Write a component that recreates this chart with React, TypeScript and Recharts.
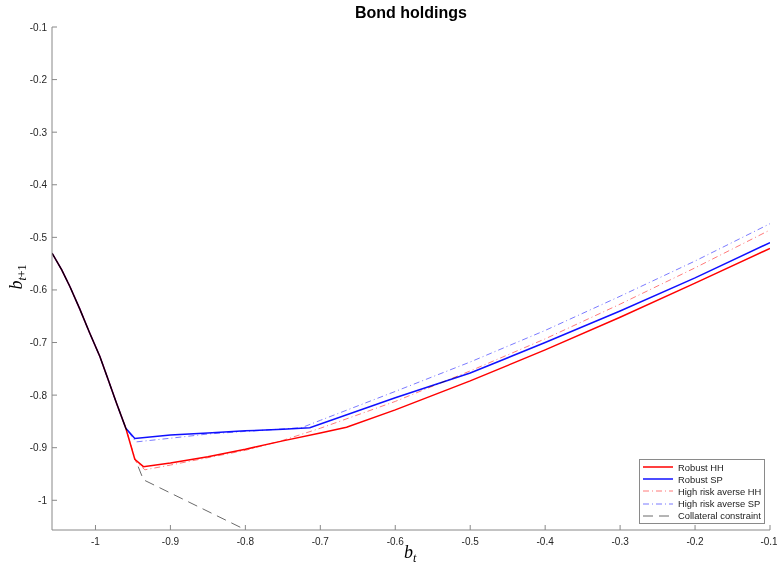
import React from 'react';
import { LineChart, Line, XAxis, YAxis, Legend } from 'recharts';

// common left branch (all policies coincide here)
const sharedX = [-1.058, -1.045, -1.034, -1.021, -1.008, -0.994, -0.983, -0.972, -0.9595];
const sharedY = [-0.53, -0.562, -0.594, -0.636, -0.681, -0.727, -0.771, -0.815, -0.863];

const robustHHX = [-0.9475, -0.936, -0.9, -0.85, -0.8, -0.75, -0.7, -0.665, -0.6, -0.5, -0.4, -0.3, -0.2, -0.1];
const robustHHY = [-0.922, -0.936, -0.929, -0.917, -0.903, -0.887, -0.872, -0.861, -0.828, -0.773, -0.714, -0.652, -0.587, -0.521];

const robustSPX = [-0.9475, -0.9, -0.85, -0.8, -0.75, -0.714, -0.6, -0.5, -0.4, -0.3, -0.2, -0.1];
const robustSPY = [-0.8825, -0.876, -0.872, -0.868, -0.865, -0.862, -0.805, -0.758, -0.7, -0.64, -0.577, -0.51];

const highHHX = [-0.946, -0.934, -0.9, -0.8, -0.75, -0.7, -0.6, -0.5, -0.4, -0.3, -0.2, -0.1];
const highHHY = [-0.927, -0.942, -0.933, -0.905, -0.886, -0.863, -0.812, -0.754, -0.693, -0.627, -0.558, -0.486];

const highSPX = [-0.946, -0.9, -0.85, -0.8, -0.725, -0.7, -0.6, -0.5, -0.4, -0.3, -0.2, -0.1];
const highSPY = [-0.889, -0.882, -0.874, -0.869, -0.862, -0.848, -0.793, -0.737, -0.677, -0.612, -0.545, -0.474];

const collateralX = [-0.943, -0.936, -0.8];
const collateralY = [-0.936, -0.961, -1.056];

const xTicks = [-1, -0.9, -0.8, -0.7, -0.6, -0.5, -0.4, -0.3, -0.2, -0.1];
const yTicks = [-1, -0.9, -0.8, -0.7, -0.6, -0.5, -0.4, -0.3, -0.2, -0.1];

const toPoints = (xs: number[], ys: number[]) => xs.map((x, i) => ({ x, y: ys[i] }));

const series = [
  { name: 'Robust HH', data: toPoints([...sharedX, ...robustHHX], [...sharedY, ...robustHHY]), color: '#ff0000', width: 1.5, dash: undefined as string | undefined },
  { name: 'Robust SP', data: toPoints([...sharedX, ...robustSPX], [...sharedY, ...robustSPY]), color: '#1010ff', width: 1.5, dash: undefined },
  { name: 'High risk averse HH', data: toPoints([...sharedX, ...highHHX], [...sharedY, ...highHHY]), color: '#ff7a7a', width: 1, dash: '6 3 1 3' },
  { name: 'High risk averse SP', data: toPoints([...sharedX, ...highSPX], [...sharedY, ...highSPY]), color: '#7a7aff', width: 1, dash: '6 3 1 3' },
  { name: 'Collateral constraint', data: toPoints(collateralX, collateralY), color: '#6a6a6a', width: 1, dash: '10 6' },
];

const font = 'Helvetica, "Liberation Sans", Arial, sans-serif';

const renderLegend = () => (
  <div style={{ border: '1px solid #8a8a8a', background: '#fff', padding: '1px 3px 1px 3px', fontFamily: font, fontSize: 9.4, color: '#222' }}>
    {series.map((s) => (
      <div key={s.name} style={{ display: 'flex', alignItems: 'center', height: 12.2, whiteSpace: 'nowrap' }}>
        <svg width={30} height={10} style={{ marginRight: 5 }}>
          <line x1={0} y1={5} x2={30} y2={5} stroke={s.color} strokeWidth={s.width} strokeDasharray={s.dash} />
        </svg>
        <span>{s.name}</span>
      </div>
    ))}
  </div>
);

export default function App() {
  return (
    <div style={{ position: 'absolute', left: 0, top: 0, width: 777, height: 568, background: '#fff' }}>
      <style>{`.recharts-line-curve { mix-blend-mode: multiply; }`}</style>
      <div style={{ position: 'absolute', left: 311, top: 5, width: 200, textAlign: 'center', fontFamily: font, fontWeight: 'bold', fontSize: 16, lineHeight: '16px', color: '#000' }}>
        Bond holdings
      </div>
      <LineChart width={777} height={568} margin={{ top: 27, right: 7, bottom: 8, left: 12 }}>
        <XAxis
          dataKey="x"
          type="number"
          domain={[-1.058, -0.1]}
          ticks={xTicks}
          allowDataOverflow
          stroke="#888"
          tickSize={-5}
          tickMargin={13}
          height={30}
          tick={{ fill: '#262626', fontSize: 10, fontFamily: font }}
        />
        <YAxis
          type="number"
          domain={[-1.0565, -0.1]}
          ticks={yTicks}
          allowDataOverflow
          stroke="#888"
          tickSize={-5}
          tickMargin={10}
          width={40}
          tick={{ fill: '#262626', fontSize: 10, fontFamily: font }}
        />
        {series.map((s) => (
          <Line
            key={s.name}
            data={s.data}
            dataKey="y"
            name={s.name}
            type="linear"
            stroke={s.color}
            strokeWidth={s.width}
            strokeDasharray={s.dash}
            dot={false}
            activeDot={false}
            isAnimationActive={false}
          />
        ))}
        <Legend
          layout="vertical"
          align="center"
          verticalAlign="middle"
          content={renderLegend}
          wrapperStyle={{ left: 639, top: 459, width: 'auto', height: 'auto' }}
        />
      </LineChart>
      <div style={{ position: 'absolute', left: 404, top: 543, fontFamily: '"Liberation Serif", "DejaVu Serif", serif', fontStyle: 'italic', fontSize: 18, lineHeight: '18px', whiteSpace: 'nowrap' }}>
        b<span style={{ fontSize: 12, position: 'relative', top: 4 }}>t</span>
      </div>
      <div style={{ position: 'absolute', left: 17, top: 277, transform: 'translate(-50%, -50%) rotate(-90deg)', fontFamily: '"Liberation Serif", "DejaVu Serif", serif', fontSize: 18, lineHeight: '18px', whiteSpace: 'nowrap' }}>
        <i>b</i>
        <span style={{ fontSize: 12, position: 'relative', top: 4 }}><i>t</i>+1</span>
      </div>
    </div>
  );
}
